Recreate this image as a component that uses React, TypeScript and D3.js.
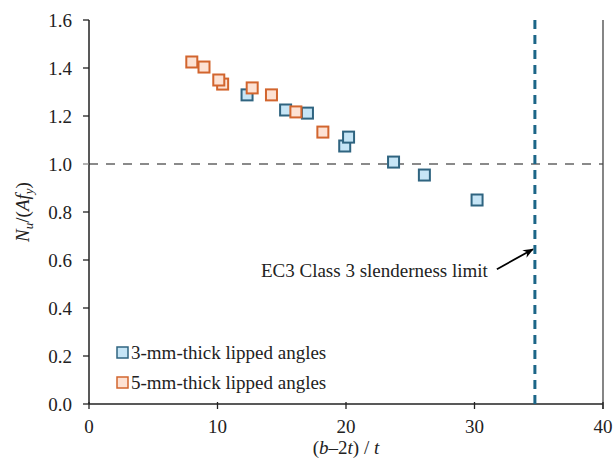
import React from 'react'
import * as d3 from 'd3'

// 3-mm-thick lipped angles
const thinX = [12.3, 15.3, 17.0, 19.9, 20.2, 23.7, 26.1, 30.2]
const thinY = [1.288, 1.225, 1.212, 1.075, 1.112, 1.008, 0.954, 0.85]
// 5-mm-thick lipped angles
const thickX = [8.0, 8.95, 10.1, 10.4, 12.7, 14.2, 16.1, 18.2]
const thickY = [1.425, 1.404, 1.35, 1.333, 1.317, 1.288, 1.217, 1.133]

const xTicks = [0, 10, 20, 30, 40]
const yTicks = [0, 0.2, 0.4, 0.6, 0.8, 1.0, 1.2, 1.4, 1.6]
const legendLabels = ['3-mm-thick lipped angles', '5-mm-thick lipped angles']
const limitX = 34.7
const refY = 1.0
const limitLabel = 'EC3 Class 3 slenderness limit'
const arrowAtY = 0.645

const font = 'Liberation Serif'

const App = () => {
    const width = 616
    const height = 460
    const left = 89
    const right = 603
    const top = 20
    const bottom = 404

    const x = d3.scaleLinear().domain([0, 40]).range([left, right])
    const y = d3.scaleLinear().domain([0, 1.6]).range([bottom, top])

    const sq = 11
    const blue = { fill: '#c6e5f6', stroke: '#2f6480' }
    const orange = { fill: '#fde2d4', stroke: '#d2652e' }

    const thin = thinX.map((v, i) => [v, thinY[i]])
    const thick = thickX.map((v, i) => [v, thickY[i]])

    const ax = x(limitX)
    const ay = y(arrowAtY)

    return (
        <svg width={width} height={height}
            style={{ position: 'absolute', left: 0, top: 0, background: '#fff', fontFamily: font, fontSize: 19 }}>
            <defs>
                <marker id="arr" viewBox="0 0 10 10" refX="9" refY="5" markerWidth="6" markerHeight="6" orient="auto">
                    <path d="M0,1 L10,5 L0,9 L3,5 Z" fill="#000" />
                </marker>
            </defs>

            {/* reference line */}
            <line x1={left} x2={right} y1={y(refY)} y2={y(refY)} stroke="#8a8a8a" strokeWidth={2.2} strokeDasharray="9,8" />

            {/* axes */}
            <line x1={left} x2={left} y1={top} y2={bottom} stroke="#222" strokeWidth={1.5} />
            <line x1={left} x2={right} y1={bottom} y2={bottom} stroke="#222" strokeWidth={1.5} />
            <line x1={right} x2={right} y1={top} y2={bottom + 5} stroke="#444" strokeWidth={1.3} />

            {yTicks.map(t => (
                <g key={'y' + t}>
                    <line x1={left - 6} x2={left} y1={y(t)} y2={y(t)} stroke={t === 1 ? '#888' : '#222'} strokeWidth={1.3} />
                    <text x={left - 17} y={y(t)} dy="0.35em" textAnchor="end" fill="#222">
                        {t.toFixed(1)}
                    </text>
                </g>
            ))}
            {xTicks.map(t => (
                <g key={'x' + t}>
                    <line x1={x(t)} x2={x(t)} y1={bottom - 2} y2={bottom + 5} stroke="#222" strokeWidth={1.3} />
                    <text x={x(t)} y={bottom + 22} dy="0.35em" textAnchor="middle" fill="#222">
                        {t}
                    </text>
                </g>
            ))}

            {/* axis titles */}
            <text x={x(20)} y={bottom + 50} textAnchor="middle" fill="#222">
                (<tspan fontStyle="italic">b</tspan>–2<tspan fontStyle="italic">t</tspan>) / <tspan fontStyle="italic">t</tspan>
            </text>
            <text transform={`translate(22, ${y(0.8)}) rotate(-90)`} textAnchor="middle" dy="0.35em" fill="#222">
                <tspan fontStyle="italic">N</tspan>
                <tspan fontStyle="italic" fontSize={13} dy="4">u</tspan>
                <tspan dy="-4">/(</tspan>
                <tspan fontStyle="italic">Af</tspan>
                <tspan fontStyle="italic" fontSize={13} dy="4">y</tspan>
                <tspan dy="-4">)</tspan>
            </text>

            {/* slenderness limit */}
            <line x1={ax} x2={ax} y1={top} y2={bottom} stroke="#1c6688" strokeWidth={3} strokeDasharray="9,6" />
            <line x1={ax - 38} y1={ay + 20} x2={ax - 2} y2={ay} stroke="#000" strokeWidth={1.8} markerEnd="url(#arr)" />
            <text x={ax - 47} y={ay + 21} dy="0.35em" textAnchor="end" fill="#222">
                {limitLabel}
            </text>

            {/* points */}
            {thin.map((d, i) => (
                <rect key={'b' + i} x={x(d[0]) - sq / 2} y={y(d[1]) - sq / 2} width={sq} height={sq}
                    fill={blue.fill} stroke={blue.stroke} strokeWidth={2} />
            ))}
            {thick.slice().reverse().map((d, i) => (
                <rect key={'o' + i} x={x(d[0]) - sq / 2} y={y(d[1]) - sq / 2} width={sq} height={sq}
                    fill={orange.fill} stroke={orange.stroke} strokeWidth={2} />
            ))}

            {/* legend */}
            {legendLabels.map((l, i) => {
                const c = i === 0 ? blue : orange
                const ly = 352 + i * 30
                return (
                    <g key={l}>
                        <rect x={117} y={ly - 5} width={11} height={11} fill={c.fill} stroke={c.stroke} strokeWidth={1.5} />
                        <text x={131} y={ly} dy="0.35em" fill="#222">{l}</text>
                    </g>
                )
            })}
        </svg>
    )
}

export default App
